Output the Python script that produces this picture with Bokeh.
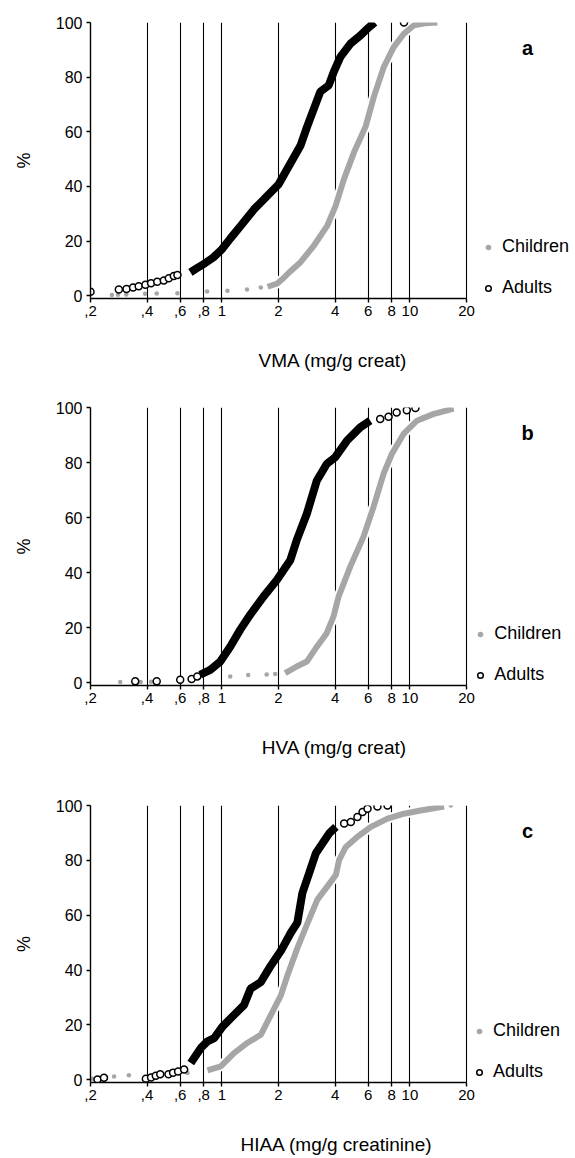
from bokeh.plotting import figure
from bokeh.models import FixedTicker, Range1d, Legend, LegendItem, Label
from bokeh.layouts import column
from bokeh.embed import file_html
from bokeh.resources import INLINE

# ---------------- data ----------------
X_TICKS = [0.2, 0.4, 0.6, 0.8, 1, 2, 4, 6, 8, 10, 20]
X_TICK_LABELS = [",2", ",4", ",6", ",8", "1", "2", "4", "6", "8", "10", "20"]
Y_TICKS = [0, 20, 40, 60, 80, 100]

# Panel a: VMA
a_adult_tail_x = [0.20, 0.283, 0.311, 0.337, 0.361, 0.392, 0.42, 0.453, 0.491, 0.522, 0.555, 0.58, 9.3]
a_adult_tail_y = [1.5, 2.3, 2.5, 3.0, 3.5, 4.0, 4.6, 5.1, 5.6, 6.4, 7.2, 7.6, 100]
a_adult_x = [0.68, 0.74, 0.80, 0.90, 1.0, 1.11, 1.26, 1.48, 1.74, 2.0, 2.32, 2.62, 2.84, 3.21, 3.34, 3.70, 3.94, 4.27, 4.83, 5.46, 5.93, 6.5]
a_adult_y = [8.6, 10.2, 11.6, 14.0, 17, 21, 25.6, 31.6, 36.5, 40.7, 48.6, 55, 61.9, 71.6, 74.7, 77, 82, 87.4, 92.3, 95.3, 97.7, 100]
a_child_tail_x = [0.26, 0.28, 0.31, 0.39, 0.45, 0.58, 0.834, 1.07, 1.36, 1.61]
a_child_tail_y = [0.3, 0.4, 0.5, 0.7, 0.8, 0.9, 1.6, 1.8, 2.3, 3.0]
a_child_x = [1.75, 1.97, 2.13, 2.3, 2.62, 3.08, 3.63, 4.02, 4.45, 5.03, 5.81, 6.43, 7.26, 8.2, 9.29, 10.5, 12.0, 14.0]
a_child_y = [3.3, 4.5, 6.5, 8.8, 12.3, 18.3, 25.6, 32.8, 42.5, 52.3, 61.9, 72.8, 83.7, 91, 95.9, 99, 99.7, 100]

# Panel b: HVA
b_adult_tail_x = [0.346, 0.45, 0.60, 0.69, 0.74, 6.95, 7.7, 8.5, 9.63, 10.7]
b_adult_tail_y = [0.5, 0.5, 1.1, 1.4, 2.3, 95.8, 96.6, 98.2, 99.0, 99.8]
b_adult_x = [0.766, 0.867, 0.98, 1.107, 1.25, 1.41, 1.66, 1.96, 2.31, 2.5, 2.83, 3.2, 3.61, 4.0, 4.62, 5.44, 6.15]
b_adult_y = [2.9, 4.7, 7.7, 13.1, 19.2, 24.6, 31.2, 37.3, 44.5, 51.8, 61.4, 73.5, 79.5, 81.9, 87.9, 92.8, 95.2]
b_child_tail_x = [0.288, 0.37, 0.42, 1.107, 1.38, 1.73, 1.92]
b_child_tail_y = [0.3, 0.3, 0.4, 2.3, 2.8, 3.0, 3.2]
b_child_x = [2.17, 2.5, 2.83, 3.2, 3.61, 3.92, 4.17, 4.81, 5.66, 6.4, 7.24, 8.01, 9.25, 10.9, 13.3, 17.1]
b_child_y = [3.5, 5.9, 7.7, 13.1, 18.0, 24.0, 31.2, 42.1, 53, 63.8, 75.9, 83.1, 90.4, 95.2, 97.6, 99.6]

# Panel c: HIAA
c_adult_tail_x = [0.218, 0.236, 0.394, 0.42, 0.445, 0.47, 0.52, 0.55, 0.585, 0.63, 4.47, 4.85, 5.26, 5.6, 5.95, 6.72, 7.6]
c_adult_tail_y = [0.1, 0.7, 0.4, 0.8, 1.5, 2.0, 2.0, 2.6, 3.0, 3.7, 93.4, 94.0, 95.8, 97.6, 98.8, 99.6, 100]
c_adult_x = [0.683, 0.773, 0.838, 0.91, 1.007, 1.16, 1.31, 1.42, 1.61, 1.82, 2.06, 2.33, 2.52, 2.68, 2.91, 3.16, 3.43, 3.72, 4.04]
c_adult_y = [6.1, 11.6, 14.0, 15.2, 19.4, 23.6, 27.2, 33.2, 35.6, 41.6, 47.0, 53.7, 57.3, 68.1, 75.3, 82.6, 86.2, 89.8, 92.2]
c_child_tail_x = [0.205, 0.267, 0.32, 0.42, 0.656, 16.5]
c_child_tail_y = [0.4, 1.2, 1.6, 1.2, 2.5, 100]
c_child_x = [0.838, 0.986, 1.16, 1.37, 1.61, 1.82, 2.06, 2.23, 2.52, 2.85, 3.22, 3.64, 4.04, 4.2, 4.56, 5.26, 6.2, 7.6, 9.3, 11.4, 15.2]
c_child_y = [3.4, 4.9, 9.7, 13.5, 16.4, 23.6, 30.8, 38.0, 48.0, 57.0, 65.7, 70.5, 74.7, 80.1, 84.9, 88.6, 92.2, 95.2, 97.0, 98.2, 99.6]

FONT = "Liberation Sans"
GRAY = "#a6a6a6"
WIN_W = 575
AXIS_W = 376          # pixel width of the 0.2..20 axis
PX_PER_DECADE = AXIS_W / 2.0


def make_panel(letter, xlabel, left, frame_h, bottom,
               ad_tx, ad_ty, ad_x, ad_y, ch_tx, ch_ty, ch_x, ch_y):
    frame_w = WIN_W - left
    extra = frame_w - AXIS_W
    x_end = X_TICKS[-1] * 10 ** (extra / PX_PER_DECADE)   # room on the right for legend
    p = figure(x_axis_type="log", x_range=Range1d(X_TICKS[0], x_end), y_range=Range1d(-1, 100),
               frame_width=frame_w, frame_height=frame_h,
               min_border_left=left, min_border_right=0,
               min_border_top=22, min_border_bottom=bottom,
               output_backend="svg", toolbar_location=None)
    p.background_fill_color = "white"
    p.border_fill_color = "white"
    p.outline_line_color = None

    p.xaxis.ticker = FixedTicker(ticks=X_TICKS, minor_ticks=[])
    p.xaxis.major_label_overrides = {t: l for t, l in zip(X_TICKS, X_TICK_LABELS)}
    p.xaxis.bounds = (X_TICKS[0], X_TICKS[-1])
    p.yaxis.ticker = FixedTicker(ticks=Y_TICKS, minor_ticks=[])
    for ax in (p.xaxis[0], p.yaxis[0]):
        ax.axis_line_color = "black"
        ax.axis_line_width = 1.4
        ax.major_tick_line_color = "black"
        ax.major_tick_line_width = 1.4
        ax.major_tick_in = 0
        ax.major_tick_out = 4
        ax.minor_tick_line_color = None
        ax.major_label_text_font = FONT
        ax.major_label_text_color = "black"
        ax.axis_label_text_font = FONT
        ax.axis_label_text_font_style = "normal"
        ax.axis_label_text_color = "black"
    p.xaxis.major_label_text_font_size = "15px"
    p.xaxis.major_label_standoff = 3
    p.xaxis.axis_label = xlabel
    p.xaxis.axis_label_text_font_size = "19px"
    p.xaxis.axis_label_standoff = 31
    p.yaxis.major_label_text_font_size = "16px"
    p.yaxis.major_label_standoff = 4
    p.yaxis.axis_label = "%"
    p.yaxis.axis_label_text_font_size = "18px"
    p.yaxis.axis_label_standoff = 19

    # vertical reference lines (incl. right frame edge at 20)
    p.xgrid.ticker = FixedTicker(ticks=X_TICKS[1:], minor_ticks=[])
    p.xgrid.grid_line_color = "black"
    p.xgrid.grid_line_width = 1.1
    # top frame edge at 100, only over the axis span
    p.ygrid.ticker = FixedTicker(ticks=[Y_TICKS[-1]], minor_ticks=[])
    p.ygrid.bounds = (X_TICKS[0], X_TICKS[-1])
    p.ygrid.grid_line_color = "black"
    p.ygrid.grid_line_width = 1.2

    # children
    p.line(ch_x, ch_y, line_color="white", line_width=10)
    p.line(ch_x, ch_y, line_color=GRAY, line_width=6)
    ch_r = p.scatter(ch_tx, ch_ty, marker="circle", size=4.5, fill_color=GRAY, line_color=None)
    # adults
    p.line(ad_x, ad_y, line_color="black", line_width=8)
    ad_r = p.scatter(ad_tx, ad_ty, marker="circle", size=7, fill_color="white",
                     line_color="black", line_width=1.5)

    legend = Legend(items=[LegendItem(label="Children", renderers=[ch_r]),
                           LegendItem(label="Adults", renderers=[ad_r])],
                    location=(AXIS_W + 15, 0), orientation="vertical",
                    padding=0, margin=0, spacing=20, label_height=20, glyph_height=20,
                    glyph_width=14, label_standoff=7,
                    label_text_font=FONT, label_text_font_size="18px",
                    label_text_color="black",
                    border_line_color=None, background_fill_alpha=0)
    p.add_layout(legend)

    p.add_layout(Label(x=AXIS_W + 61, y=frame_h - 25, x_units="screen", y_units="screen", text=letter,
                       text_font=FONT, text_font_size="20px", text_font_style="bold",
                       text_color="black",
                       text_align="center", text_baseline="middle"))
    return p


pa = make_panel("a", "VMA (mg/g creat)", 90, 276, 87,
                a_adult_tail_x, a_adult_tail_y, a_adult_x, a_adult_y,
                a_child_tail_x, a_child_tail_y, a_child_x, a_child_y)
pb = make_panel("b", "HVA (mg/g creat)", 87, 278, 98,
                b_adult_tail_x, b_adult_tail_y, b_adult_x, b_adult_y,
                b_child_tail_x, b_child_tail_y, b_child_x, b_child_y)
pc = make_panel("c", "HIAA (mg/g creatinine)", 83, 277, 76,
                c_adult_tail_x, c_adult_tail_y, c_adult_x, c_adult_y,
                c_child_tail_x, c_child_tail_y, c_child_x, c_child_y)

layout = column(pa, pb, pc, spacing=0)
open("out.html", "w").write(file_html(layout, INLINE))
